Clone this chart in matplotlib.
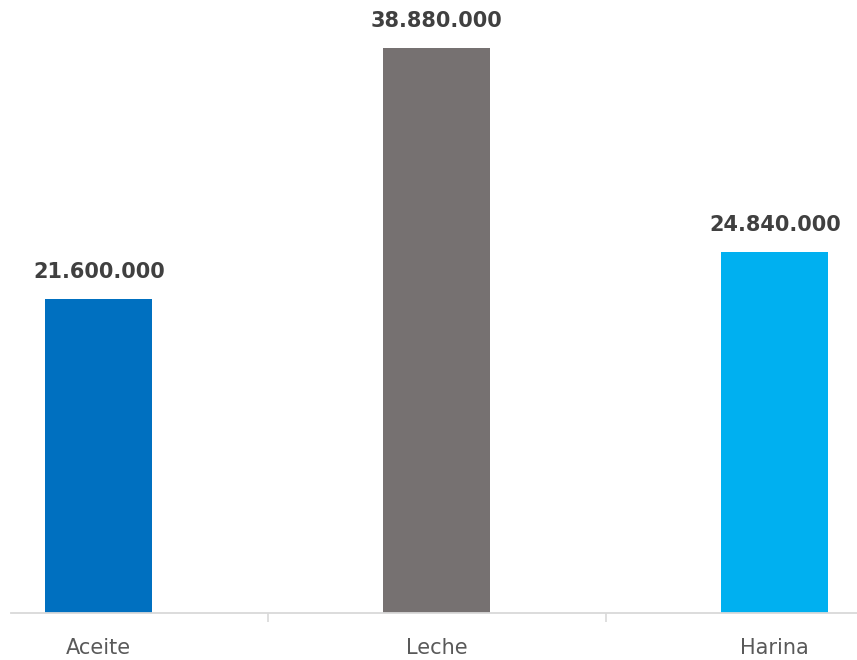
import matplotlib
matplotlib.use("Agg")
import matplotlib.pyplot as plt
import numpy as np

# datos
productos = ["Aceite", "Leche", "Harina"]
valores = [21600000, 38880000, 24840000]
colores = ["#0070C0", "#767171", "#00B0F0"]

plt.rcParams['font.family'] = ['DejaVu Sans']

fig = plt.figure(figsize=(8.57, 6.6), dpi=100)
ax = fig.add_axes([11 / 857, 47 / 660, 846 / 857, 613 / 660])

x = np.arange(len(productos))
barras = ax.bar(x, valores, width=0.317, color=colores)

# etiquetas de valor con punto como separador de miles
for b, v in zip(barras, valores):
    txt = f"{v:,}".replace(",", ".")
    ax.annotate(txt, (b.get_x() + b.get_width() / 2, v), xytext=(0, 12),
                textcoords="offset points", ha="center", va="bottom",
                fontsize=15, fontweight="bold", color="#404040")

ax.set_xlim(-0.26, 2.243)
ax.set_ylim(0, 42.19e6)

# ejes estilo excel
for s in ["top", "right", "left"]:
    ax.spines[s].set_visible(False)
ax.spines["bottom"].set_color("#d9d9d9")
ax.spines["bottom"].set_linewidth(1.3)
ax.set_yticks([])

ax.set_xticks([0.5, 1.5])
ax.set_xticklabels([])
ax.tick_params(axis="x", which="major", length=6.5, color="#d9d9d9", width=1.2)
ax.set_xticks(x, minor=True)
ax.set_xticklabels(productos, minor=True)
ax.tick_params(axis="x", which="minor", length=0, pad=18, labelsize=15,
               labelcolor="#595959")

fig.savefig("out.png", dpi=100)
